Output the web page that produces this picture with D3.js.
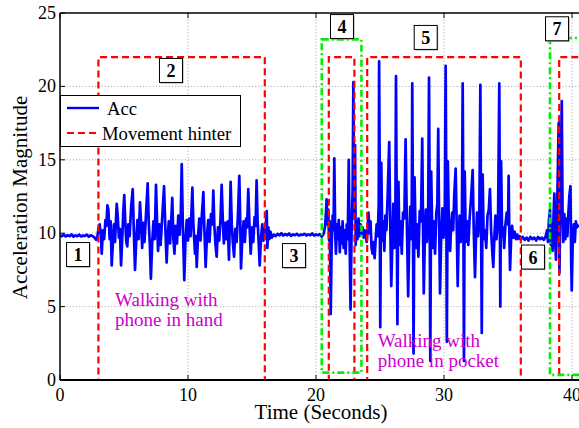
<!DOCTYPE html>
<html>
<head>
<meta charset="utf-8">
<script src="https://cdn.jsdelivr.net/npm/d3@7"></script>
<style>
  body { margin: 0; background: #fff; }
  svg { display: block; }
</style>
</head>
<body>
<svg id="chart" width="579" height="428"></svg>
<script>
// ---- data -------------------------------------------------------------
const xTicks = [0, 10, 20, 30, 40];
const yTicks = [0, 5, 10, 15, 20, 25];

// acceleration magnitude, [time (s), value]
const restBefore = [[0,9.85],[0.15,9.8],[0.3,9.9],[0.45,9.78],[0.6,9.86],[0.75,9.8],[0.9,9.92],[1.05,9.76],[1.2,9.85],[1.35,9.8],[1.5,9.9],[1.65,9.78],[1.8,9.84],[1.95,9.82],[2.1,9.9],[2.25,9.76],[2.4,9.86],[2.55,9.8],[2.7,9.7],[2.82,9.55],[2.92,9.75]];

const walkHand = [[3.0,10.3],[3.1,10.6],[3.2,9.8],[3.26,8.6],[3.35,10.2],[3.45,9.6],[3.55,10.9],[3.63,10.5],[3.7,11.9],[3.78,11.6],[3.88,9.6],[3.96,10.8],[4.04,7.8],[4.14,9.5],[4.22,10.6],[4.3,9.4],[4.38,11.0],[4.43,12.0],[4.5,11.3],[4.6,9.7],[4.68,10.3],[4.77,7.8],[4.87,9.8],[4.95,11.5],[5.02,12.6],[5.1,10.8],[5.18,9.4],[5.26,9.1],[5.34,10.6],[5.44,9.8],[5.56,11.8],[5.68,13.0],[5.76,10.4],[5.86,7.5],[5.96,9.6],[6.05,10.9],[6.14,9.6],[6.25,12.1],[6.33,10.8],[6.42,9.0],[6.5,10.7],[6.6,9.4],[6.72,11.3],[6.85,13.4],[6.93,10.8],[7.02,9.2],[7.1,6.9],[7.2,9.3],[7.3,10.8],[7.4,9.6],[7.5,13.3],[7.58,10.9],[7.66,8.8],[7.76,10.6],[7.86,9.2],[7.98,11.0],[8.13,13.2],[8.22,10.6],[8.33,8.0],[8.42,9.8],[8.5,10.8],[8.6,9.3],[8.7,11.0],[8.77,12.4],[8.86,9.6],[8.94,8.6],[9.04,10.5],[9.14,9.3],[9.24,11.2],[9.34,9.9],[9.44,11.4],[9.51,14.7],[9.6,10.4],[9.71,6.8],[9.8,9.5],[9.9,10.9],[10.0,9.5],[10.1,11.0],[10.2,9.8],[10.34,13.1],[10.42,10.6],[10.55,8.6],[10.62,9.8],[10.68,7.7],[10.78,9.7],[10.88,11.0],[10.98,9.5],[11.08,11.2],[11.2,12.8],[11.28,10.3],[11.38,7.7],[11.48,9.8],[11.58,10.9],[11.68,9.4],[11.8,11.3],[11.9,10.6],[11.98,12.9],[12.06,10.5],[12.15,9.2],[12.24,8.4],[12.34,10.4],[12.44,9.5],[12.54,11.0],[12.63,13.3],[12.72,10.9],[12.8,9.3],[12.9,10.7],[13.0,9.6],[13.1,10.8],[13.2,8.2],[13.27,10.9],[13.33,13.5],[13.42,10.6],[13.5,9.4],[13.6,8.4],[13.7,10.3],[13.8,9.4],[13.9,11.2],[14.01,13.9],[14.08,10.9],[14.14,7.6],[14.24,9.6],[14.34,10.8],[14.44,9.4],[14.54,11.0],[14.62,10.4],[14.71,13.0],[14.8,10.6],[14.9,8.6],[15.0,10.4],[15.1,9.4],[15.2,11.1],[15.28,10.5],[15.36,13.6],[15.44,10.8],[15.52,9.4],[15.6,7.8],[15.7,9.6],[15.8,10.6],[15.9,9.5],[16.0,10.2],[16.08,10.6],[16.15,11.5],[16.2,9.0],[16.28,10.4],[16.36,9.6],[16.45,10.1],[16.55,9.7]];

const restMiddle = [[16.7,9.9],[16.85,9.8],[17.0,9.95],[17.15,9.85],[17.3,10.0],[17.45,9.84],[17.6,9.94],[17.75,9.86],[17.9,9.98],[18.05,9.82],[18.2,9.92],[18.35,9.86],[18.5,9.96],[18.65,9.84],[18.8,9.9],[18.95,9.88],[19.1,9.96],[19.25,9.84],[19.4,9.92],[19.55,9.86],[19.7,9.98],[19.85,9.84],[20.0,9.92],[20.15,9.86],[20.3,9.94],[20.45,9.76],[20.6,9.96]];

const burstFour = [[20.7,10.4],[20.78,11.4],[20.83,12.3],[20.9,10.6],[20.96,11.6],[21.02,9.5],[21.08,10.8],[21.15,4.5],[21.22,9.0],[21.3,11.2],[21.37,10.2],[21.43,15.1],[21.5,10.0],[21.56,8.6],[21.63,10.6],[21.7,9.6],[21.78,10.9],[21.86,8.7],[21.94,10.4],[22.0,9.3],[22.08,10.8],[22.16,9.0],[22.24,10.2],[22.32,8.6],[22.4,10.6],[22.48,9.6],[22.56,15.0],[22.62,9.8],[22.7,4.8],[22.78,10.2],[22.86,12.8],[22.92,20.3],[22.98,11.0],[23.05,16.0],[23.1,9.2],[23.16,10.8],[23.24,9.6],[23.32,11.0],[23.4,9.8],[23.48,10.6],[23.56,9.9],[23.64,10.4],[23.72,9.7],[23.8,10.2],[23.88,9.8],[23.96,9.4],[24.02,10.1]];

const walkPocket = [[24.1,11.4],[24.18,10.0],[24.26,10.8],[24.34,9.0],[24.42,8.6],[24.5,9.4],[24.58,8.3],[24.66,9.6],[24.74,10.6],[24.82,9.8],[24.9,12.0],[24.93,21.7],[24.98,13.5],[25.02,3.6],[25.1,14.8],[25.18,9.5],[25.26,10.8],[25.34,8.8],[25.42,11.2],[25.5,10.2],[25.6,12.6],[25.72,16.2],[25.8,10.6],[25.88,6.4],[25.96,9.2],[26.04,12.0],[26.12,9.0],[26.2,11.0],[26.25,20.7],[26.3,12.8],[26.36,3.8],[26.44,13.5],[26.52,9.2],[26.6,10.8],[26.7,8.6],[26.8,11.4],[26.9,11.0],[27.0,16.4],[27.1,10.6],[27.2,5.7],[27.28,9.4],[27.36,11.8],[27.44,9.6],[27.48,11.4],[27.52,20.2],[27.57,12.2],[27.62,1.8],[27.7,13.8],[27.8,9.0],[27.9,10.6],[28.0,8.4],[28.1,11.5],[28.2,10.8],[28.3,16.45],[28.36,10.4],[28.42,5.9],[28.5,9.6],[28.58,11.6],[28.66,9.4],[28.76,11.0],[28.83,20.6],[28.88,12.0],[28.93,1.3],[29.0,14.2],[29.1,9.0],[29.2,10.8],[29.3,8.6],[29.4,11.4],[29.48,12.0],[29.55,17.1],[29.62,10.6],[29.69,5.9],[29.78,9.8],[29.88,11.7],[29.96,9.7],[30.06,11.0],[30.13,21.4],[30.18,12.4],[30.22,2.6],[30.3,14.9],[30.4,9.4],[30.48,8.8],[30.56,10.6],[30.64,11.4],[30.72,10.2],[30.8,12.6],[30.91,14.4],[31.0,10.2],[31.07,6.4],[31.14,9.6],[31.22,11.2],[31.3,9.4],[31.4,11.0],[31.46,20.2],[31.51,11.8],[31.56,1.3],[31.62,14.2],[31.7,9.4],[31.8,10.8],[31.9,9.2],[32.0,11.0],[32.1,12.2],[32.24,14.3],[32.32,10.4],[32.42,7.0],[32.5,9.6],[32.58,11.4],[32.66,9.8],[32.76,11.0],[32.84,20.1],[32.89,12.0],[32.95,3.2],[33.02,14.0],[33.1,9.6],[33.2,10.2],[33.3,9.0],[33.4,11.2],[33.5,11.6],[33.59,13.0],[33.68,10.2],[33.78,8.6],[33.85,7.7],[33.94,9.8],[34.02,11.2],[34.1,9.6],[34.22,10.8],[34.32,20.2],[34.36,11.6],[34.4,5.0],[34.46,14.9],[34.54,9.8],[34.62,10.4],[34.7,9.0],[34.8,10.6],[34.9,11.4],[35.0,10.6],[35.05,13.9],[35.1,10.2],[35.16,7.5],[35.24,9.6],[35.32,10.5],[35.42,9.7],[35.52,10.1],[35.62,9.6],[35.72,9.9],[35.82,9.6],[35.92,9.8],[36.02,9.6]];

const restAfter = [[36.15,9.75],[36.3,9.55],[36.45,9.7],[36.6,9.5],[36.75,9.75],[36.9,9.6],[37.05,9.7],[37.2,9.5],[37.35,9.75],[37.5,9.6],[37.65,9.7],[37.8,9.55],[37.95,9.8]];

const burstSeven = [[38.05,10.2],[38.12,9.4],[38.2,10.9],[38.28,11.6],[38.34,9.2],[38.4,10.6],[38.48,8.8],[38.56,11.2],[38.62,12.7],[38.68,9.6],[38.75,8.2],[38.82,10.8],[38.9,14.6],[38.96,17.5],[39.02,7.3],[39.1,12.2],[39.2,19.0],[39.26,11.6],[39.32,9.4],[39.4,11.3],[39.48,9.6],[39.56,11.0],[39.64,9.8],[39.72,11.4],[39.8,12.6],[39.88,13.2],[39.94,8.0],[39.98,6.1],[40.06,9.6],[40.14,10.6],[40.22,9.4],[40.3,10.8],[40.4,10.4],[40.5,10.6]];

// movement hinter: step signal (0 = still, 22 = moving)
const hinterTime  = [0, 3, 3, 16, 16, 21, 21, 23, 23, 24, 24, 36, 36, 39, 39, 41.5];
const hinterLevel = [0, 0, 22, 22, 0, 0, 22, 22, 0, 0, 22, 22, 0, 0, 22, 22];

// detected transition windows (time span, magnitude span)
const windowStart = [20.45, 38.28];
const windowEnd   = [23.55, 41.5];
const windowLow   = [0.5, 0.35];
const windowHigh  = [23.2, 23.3];

// stage markers
const stageNames = ["1", "2", "3", "4", "5", "6", "7"];
const stageTime  = [1.41, 8.67, 18.28, 22.03, 28.57, 36.95, 38.83];
const stageValue = [8.58, 21.12, 8.51, 24.11, 23.37, 8.41, 23.96];

// ---- layout -----------------------------------------------------------
const svg = d3.select("#chart");
const plotLeft = 60, plotTop = 13, plotBottom = 380, plotRight = 586;
const x = d3.scaleLinear().domain([0, 40]).range([60, 572]);
const y = d3.scaleLinear().domain([0, 25]).range([plotBottom, plotTop]);
const serif = "'Liberation Serif','Times New Roman',Times,serif";

svg.append("defs").append("clipPath").attr("id", "plot")
  .append("rect").attr("x", plotLeft).attr("y", plotTop)
  .attr("width", plotRight - plotLeft).attr("height", plotBottom - plotTop);

// grid
const grid = svg.append("g").attr("stroke", "#8c8c8c").attr("stroke-width", 0.8)
  .attr("stroke-dasharray", "1,2.2");
grid.selectAll(".gx").data(xTicks.filter(d => d > 0)).join("line")
  .attr("x1", d => x(d)).attr("x2", d => x(d)).attr("y1", plotTop).attr("y2", plotBottom);
grid.selectAll(".gy").data(yTicks.filter(d => d > 0 && d < 25)).join("line")
  .attr("x1", plotLeft).attr("x2", plotRight).attr("y1", d => y(d)).attr("y2", d => y(d));

// data layers
const plot = svg.append("g").attr("clip-path", "url(#plot)");
const accSamples = [].concat(restBefore, walkHand, restMiddle, burstFour, walkPocket, restAfter, burstSeven);
const accLine = d3.line().x(d => x(d[0])).y(d => y(d[1]));
plot.append("path").datum(accSamples).attr("d", accLine)
  .attr("fill", "none").attr("stroke", "#0000ff").attr("stroke-width", 2.7)
  .attr("stroke-linejoin", "round");

// axes frame (bottom drawn before the hinter so its dashes sit on top)
const axes = svg.append("g").attr("stroke", "#000");
axes.append("line").attr("x1", plotLeft).attr("x2", plotRight).attr("y1", plotBottom).attr("y2", plotBottom).attr("stroke-width", 2);
axes.append("line").attr("x1", plotLeft).attr("x2", plotRight).attr("y1", plotTop).attr("y2", plotTop).attr("stroke-width", 1.3);
axes.append("line").attr("x1", plotLeft).attr("x2", plotLeft).attr("y1", plotTop).attr("y2", plotBottom).attr("stroke-width", 1.5);
axes.selectAll(".tb").data(xTicks).join("line")
  .attr("x1", d => x(d)).attr("x2", d => x(d)).attr("y1", plotBottom).attr("y2", plotBottom - 5).attr("stroke-width", 1);
axes.selectAll(".tt").data(xTicks).join("line")
  .attr("x1", d => x(d)).attr("x2", d => x(d)).attr("y1", plotTop).attr("y2", plotTop + 5).attr("stroke-width", 1);
axes.selectAll(".tl").data(yTicks).join("line")
  .attr("x1", plotLeft).attr("x2", plotLeft + 5).attr("y1", d => y(d)).attr("y2", d => y(d)).attr("stroke-width", 1);

const hinter = hinterTime.map((t, i) => [t, hinterLevel[i]]);
plot.append("path").datum(hinter).attr("d", accLine)
  .attr("fill", "none").attr("stroke", "#ff0000").attr("stroke-width", 2.2)
  .attr("stroke-dasharray", "7,4");

plot.selectAll(".win").data(windowStart).join("rect")
  .attr("x", (d, i) => x(d)).attr("y", (d, i) => y(windowHigh[i]))
  .attr("width", (d, i) => x(windowEnd[i]) - x(d))
  .attr("height", (d, i) => y(windowLow[i]) - y(windowHigh[i]))
  .attr("fill", "none").attr("stroke", "#00ee00").attr("stroke-width", 2.6)
  .attr("stroke-dasharray", "7,3,2,3");

// activity notes
const notes = svg.append("g").attr("font-family", serif).attr("font-size", 19).attr("fill", "#cc00cc");
notes.append("text").attr("x", x(4.3)).attr("y", 305.7).text("Walking with");
notes.append("text").attr("x", x(4.3)).attr("y", 325.5).text("phone in hand");
notes.append("text").attr("x", x(24.82)).attr("y", 346.7).text("Walking with");
notes.append("text").attr("x", x(24.82)).attr("y", 366.7).text("phone in pocket");

// stage markers
const marks = svg.append("g").selectAll("g").data(stageNames).join("g")
  .attr("transform", (d, i) => `translate(${x(stageTime[i])},${y(stageValue[i])})`);
marks.append("rect").attr("x", -10.5).attr("y", -10.5).attr("width", 23).attr("height", 24)
  .attr("fill", "#9a9a9a");
marks.append("rect").attr("x", -11.5).attr("y", -11.5).attr("width", 23).attr("height", 24)
  .attr("fill", "#fff").attr("stroke", "#000").attr("stroke-width", 1);
marks.append("text").attr("x", 0).attr("y", 7).attr("text-anchor", "middle")
  .attr("font-family", serif).attr("font-weight", "bold").attr("font-size", 18)
  .text(d => d);

// tick labels
const labels = svg.append("g").attr("font-family", serif).attr("font-size", 18).attr("fill", "#000");
labels.selectAll(".xl").data(xTicks).join("text")
  .attr("x", d => x(d)).attr("y", 401).attr("text-anchor", "middle").text(d => d);
labels.selectAll(".yl").data(yTicks).join("text")
  .attr("x", 56).attr("y", d => y(d) + 6).attr("text-anchor", "end").text(d => d);

// axis titles
svg.append("text").attr("x", 321).attr("y", 419).attr("text-anchor", "middle")
  .attr("font-family", serif).attr("font-size", 21).text("Time (Seconds)");
svg.append("text").attr("transform", "translate(27,197.5) rotate(-90)").attr("text-anchor", "middle")
  .attr("font-family", serif).attr("font-size", 21).text("Acceleration Magnitude");

// legend
const legend = svg.append("g");
legend.append("rect").attr("x", 60.5).attr("y", 95.5).attr("width", 180).attr("height", 51)
  .attr("fill", "#fff").attr("stroke", "#000").attr("stroke-width", 1);
legend.append("line").attr("x1", 67).attr("x2", 99).attr("y1", 108).attr("y2", 108)
  .attr("stroke", "#0000ff").attr("stroke-width", 2.4);
legend.append("line").attr("x1", 67).attr("x2", 99).attr("y1", 133).attr("y2", 133)
  .attr("stroke", "#ff0000").attr("stroke-width", 2.2).attr("stroke-dasharray", "7,4");
legend.append("text").attr("x", 107).attr("y", 114.5).attr("font-family", serif).attr("font-size", 18.7).text("Acc");
legend.append("text").attr("x", 102).attr("y", 139.5).attr("font-family", serif).attr("font-size", 18.7).text("Movement hinter");
</script>
</body>
</html>
